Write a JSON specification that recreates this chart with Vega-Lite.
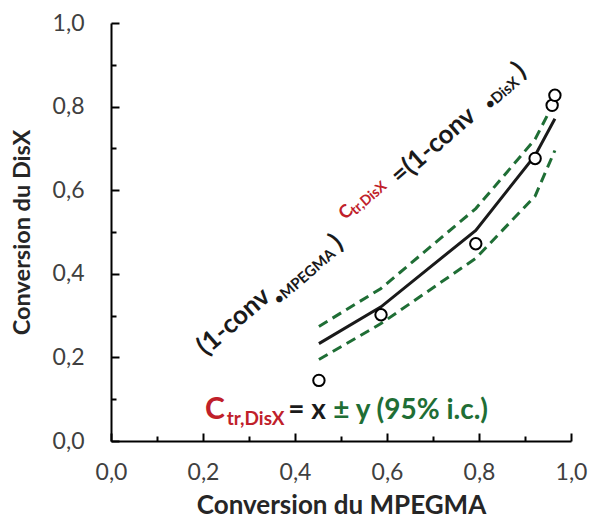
{
  "$schema": "https://vega.github.io/schema/vega-lite/v6.json",
  "width": 460,
  "height": 418,
  "autosize": "none",
  "padding": {"left": 111, "top": 23, "right": 18, "bottom": 82},
  "background": "white",
  "config": {
    "view": {"stroke": null},
    "font": "Lato",
    "axis": {
      "grid": false,
      "domainColor": "#000000",
      "domainWidth": 2,
      "tickColor": "#000000",
      "tickWidth": 2,
      "labelFont": "Lato",
      "labelFontSize": 23,
      "labelColor": "#404040",
      "labelFlush": false,
      "labelOverlap": false,
      "titleFont": "Lato",
      "titleFontWeight": "bold",
      "titleColor": "#262626"
    }
  },
  "resolve": {"axis": {"x": "independent", "y": "independent"}},
  "datasets": {
    "obs": [
      {"x": 0.452, "y": 0.145},
      {"x": 0.587, "y": 0.302},
      {"x": 0.793, "y": 0.472},
      {"x": 0.922, "y": 0.676},
      {"x": 0.959, "y": 0.803},
      {"x": 0.965, "y": 0.827}
    ],
    "fit": [
      {"x": 0.452, "y": 0.233},
      {"x": 0.587, "y": 0.321},
      {"x": 0.793, "y": 0.504},
      {"x": 0.922, "y": 0.683},
      {"x": 0.965, "y": 0.771}
    ],
    "ci": [
      {"x": 0.452, "y": 0.274, "bound": "upper"},
      {"x": 0.587, "y": 0.365, "bound": "upper"},
      {"x": 0.793, "y": 0.556, "bound": "upper"},
      {"x": 0.922, "y": 0.722, "bound": "upper"},
      {"x": 0.956, "y": 0.795, "bound": "upper"},
      {"x": 0.452, "y": 0.195, "bound": "lower"},
      {"x": 0.587, "y": 0.281, "bound": "lower"},
      {"x": 0.793, "y": 0.437, "bound": "lower"},
      {"x": 0.922, "y": 0.586, "bound": "lower"},
      {"x": 0.965, "y": 0.695, "bound": "lower"}
    ],
    "notes": [
      {"x": 0.2065, "y": 0.2026, "t": "(1-conv", "role": "rotBig"},
      {"x": 0.3652, "y": 0.3246, "t": "•MPEGMA", "role": "rotSmall"},
      {"x": 0.4957, "y": 0.4562, "t": ")", "role": "rotBig"},
      {"x": 0.5087, "y": 0.528, "t": "C", "role": "rotRedC"},
      {"x": 0.5313, "y": 0.5395, "t": "tr,DisX", "role": "rotRedSub"},
      {"x": 0.6283, "y": 0.6117, "t": "=(1-conv", "role": "rotBig"},
      {"x": 0.8239, "y": 0.7911, "t": "•DisX", "role": "rotSmall"},
      {"x": 0.8935, "y": 0.8677, "t": ")", "role": "rotBig"},
      {"x": 0.2043, "y": 0.0536, "t": "C", "role": "botRedC"},
      {"x": 0.2515, "y": 0.0392, "t": "tr,DisX", "role": "botRedSub"},
      {"x": 0.3854, "y": 0.0536, "t": "= x", "role": "botBlack"},
      {"x": 0.4833, "y": 0.0536, "t": "± y (95% i.c.)", "role": "botGreen"}
    ]
  },
  "encoding": {
    "x": {"field": "x", "type": "quantitative", "scale": {"domain": [0, 1], "nice": false, "zero": false}, "axis": null},
    "y": {"field": "y", "type": "quantitative", "scale": {"domain": [0, 1], "nice": false, "zero": false}, "axis": null}
  },
  "layer": [
    {
      "data": {"name": "ci"},
      "mark": {"type": "line", "color": "#1f6e35", "strokeWidth": 3, "strokeDash": [10, 6]},
      "encoding": {
        "detail": {"field": "bound"},
        "x": {
          "field": "x", "type": "quantitative",
          "scale": {"domain": [0, 1], "nice": false, "zero": false},
          "axis": {
            "orient": "bottom",
            "title": "Conversion du MPEGMA",
            "titleFontSize": 26,
            "values": [0, 0.2, 0.4, 0.6, 0.8, 1],
            "labelExpr": "replace(format(datum.value,'.1f'),'.',',')",
            "tickSize": -8,
            "labelPadding": 28,
            "titlePadding": 8
          }
        },
        "y": {
          "field": "y", "type": "quantitative",
          "scale": {"domain": [0, 1], "nice": false, "zero": false},
          "axis": {
            "orient": "left",
            "title": "Conversion du DisX",
            "titleFontSize": 23.5,
            "values": [0, 0.2, 0.4, 0.6, 0.8, 1],
            "labelExpr": "replace(format(datum.value,'.1f'),'.',',')",
            "tickSize": -8,
            "labelPadding": 35,
            "titlePadding": 18
          }
        }
      }
    },
    {
      "data": {"name": "fit"},
      "mark": {"type": "line", "color": "#1a1a1a", "strokeWidth": 3},
      "encoding": {
        "x": {
          "field": "x", "type": "quantitative",
          "scale": {"domain": [0, 1], "nice": false, "zero": false},
          "axis": {"orient": "bottom", "title": null, "values": [0.1, 0.3, 0.5, 0.7, 0.9], "labels": false, "domain": false, "tickSize": -5}
        },
        "y": {
          "field": "y", "type": "quantitative",
          "scale": {"domain": [0, 1], "nice": false, "zero": false},
          "axis": {"orient": "left", "title": null, "values": [0.1, 0.3, 0.5, 0.7, 0.9], "labels": false, "domain": false, "tickSize": -5}
        }
      }
    },
    {
      "data": {"name": "obs"},
      "mark": {"type": "point", "shape": "circle", "filled": true, "fill": "white", "stroke": "#000000", "strokeWidth": 2, "size": 130, "opacity": 1}
    },
    {
      "data": {"name": "notes"},
      "transform": [{"filter": "datum.role == 'rotBig'"}],
      "mark": {"type": "text", "align": "left", "baseline": "alphabetic", "fontSize": 26, "fontWeight": "bold", "color": "#1a1a1a", "font": "Lato", "angle": 319},
      "encoding": {"text": {"field": "t"}}
    },
    {
      "data": {"name": "notes"},
      "transform": [{"filter": "datum.role == 'rotSmall'"}],
      "mark": {"type": "text", "align": "left", "baseline": "alphabetic", "fontSize": 15, "fontWeight": "bold", "color": "#1a1a1a", "font": "Lato", "angle": 319},
      "encoding": {"text": {"field": "t"}}
    },
    {
      "data": {"name": "notes"},
      "transform": [{"filter": "datum.role == 'rotRedC'"}],
      "mark": {"type": "text", "align": "left", "baseline": "alphabetic", "fontSize": 18, "fontWeight": "bold", "color": "#c0202a", "font": "Lato", "angle": 319},
      "encoding": {"text": {"field": "t"}}
    },
    {
      "data": {"name": "notes"},
      "transform": [{"filter": "datum.role == 'rotRedSub'"}],
      "mark": {"type": "text", "align": "left", "baseline": "alphabetic", "fontSize": 14, "fontWeight": "bold", "color": "#c0202a", "font": "Lato", "angle": 319},
      "encoding": {"text": {"field": "t"}}
    },
    {
      "data": {"name": "notes"},
      "transform": [{"filter": "datum.role == 'botRedC'"}],
      "mark": {"type": "text", "align": "left", "baseline": "alphabetic", "fontSize": 30, "fontWeight": "bold", "color": "#c0202a", "font": "Lato"},
      "encoding": {"text": {"field": "t"}}
    },
    {
      "data": {"name": "notes"},
      "transform": [{"filter": "datum.role == 'botRedSub'"}],
      "mark": {"type": "text", "align": "left", "baseline": "alphabetic", "fontSize": 19, "fontWeight": "bold", "color": "#c0202a", "font": "Lato"},
      "encoding": {"text": {"field": "t"}}
    },
    {
      "data": {"name": "notes"},
      "transform": [{"filter": "datum.role == 'botBlack'"}],
      "mark": {"type": "text", "align": "left", "baseline": "alphabetic", "fontSize": 28, "fontWeight": "bold", "color": "#1a1a1a", "font": "Lato"},
      "encoding": {"text": {"field": "t"}}
    },
    {
      "data": {"name": "notes"},
      "transform": [{"filter": "datum.role == 'botGreen'"}],
      "mark": {"type": "text", "align": "left", "baseline": "alphabetic", "fontSize": 28, "fontWeight": "bold", "color": "#1f6e35", "font": "Lato"},
      "encoding": {"text": {"field": "t"}}
    }
  ]
}
